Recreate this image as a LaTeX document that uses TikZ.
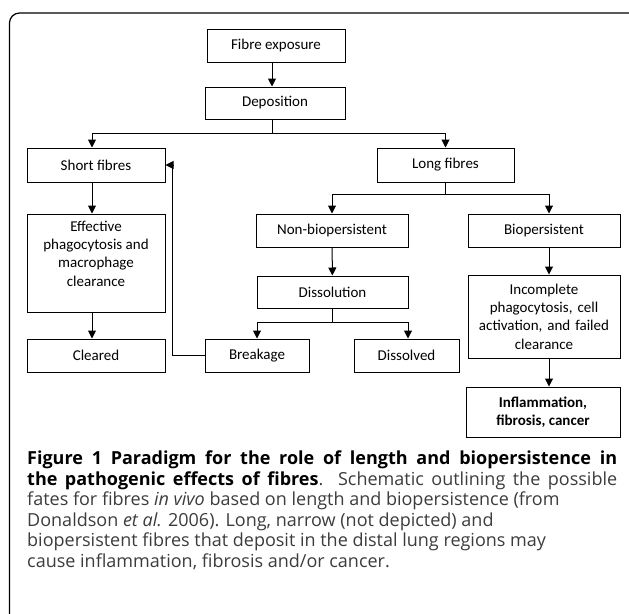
\documentclass[tikz,border=0pt]{standalone}
\usepackage{fontspec}
\setmainfont{Open Sans}
\newfontfamily\boxfont{Carlito}
\usetikzlibrary{arrows.meta}
\definecolor{captext}{HTML}{3C3C3C}

\tikzset{
  fbox/.style={draw, line width=1pt, font=\boxfont\fontsize{15}{18.3}\selectfont, align=center, inner sep=2pt},
  flow/.style={-{Triangle[length=8pt,width=8pt]}, line width=1pt},
}

\begin{document}
\begin{tikzpicture}[x=1pt,y=-1pt]
\useasboundingbox (0,0) rectangle (629,613);
% Frame round figure and caption
\begin{scope}
\clip (0,0) rectangle (629,613);
\draw[line width=1.2pt, rounded corners=10pt] (9.5,13) rectangle (660,660);
\end{scope}

% Top of the flow
\node[fbox, minimum width=138pt, minimum height=33pt] (expo) at (276,45.5) {Fibre exposure};
\node[fbox, minimum width=140pt, minimum height=32pt] (depo) at (275,103) {Deposition};

% Short fibres branch
\node[fbox, minimum width=138pt, minimum height=34pt] (short) at (96,165) {Short fibres};
\node[draw, line width=1pt, font=\boxfont\fontsize{15}{18.3}\selectfont, inner sep=2pt, minimum width=138pt, minimum height=98pt] (effect) at (96,263) {\parbox[c][84pt][t]{130pt}{\centering Effective\\phagocytosis and\\macrophage\\clearance}};
\node[fbox, minimum width=138pt, minimum height=33pt] (cleared) at (96,355.5) {Cleared};

% Long fibres branch
\node[fbox, minimum width=137pt, minimum height=34pt] (long) at (445.5,165) {Long fibres};
\node[fbox, minimum width=152pt, minimum height=33pt] (nonbio) at (332,230.5) {Non-biopersistent};
\node[fbox, minimum width=151pt, minimum height=32pt] (dissol) at (332.5,292) {Dissolution};
\node[fbox, minimum width=104pt, minimum height=33pt] (brk) at (257,355.5) {Breakage};
\node[fbox, minimum width=105pt, minimum height=33pt] (dissolved) at (406.5,355.5) {Dissolved};
\node[fbox, minimum width=152pt, minimum height=33pt] (bio) at (544,230.5) {Biopersistent};
\node[fbox, minimum width=152pt, minimum height=83pt, text width=146pt] (incompl) at (544,316.5) {Incomplete\\phagocytosis, cell\\activation, and failed\\clearance};
\node[fbox, minimum width=154pt, minimum height=50pt] (inflam) at (543,412) {\textbf{Inflammation,}\\\textbf{fibrosis, cancer}};

% Connections
\draw[flow] ([xshift=-4pt]expo.south) -- ([xshift=-4pt]expo.south |- depo.north);
\draw[flow] ([xshift=-3pt]depo.south) -- ++(0,14) -| ([xshift=-4pt]short.north);
\draw[flow] ([xshift=-3pt]depo.south) -- ++(0,14) -| (long.north);
\draw[flow] ([xshift=-4pt]short.south) -- ([xshift=-4pt]effect.north);
\draw[flow] ([xshift=-4pt]effect.south) -- ([xshift=-4pt]cleared.north);
\draw[flow] (long.south) -- ++(0,12) -| (nonbio.north);
\draw[flow] (long.south) -- ++(0,12) -| ([xshift=5pt]bio.north);
\draw[flow] (nonbio) -- (dissol);
\draw[flow] (dissol.south) -- ++(0,14) -| (brk.north);
\draw[flow] (dissol.south) -- ++(0,14) -| ([xshift=1.5pt]dissolved.north);
\draw[flow] (brk.west) -- ++(-32,0) |- (short.east);
\draw[flow] ([xshift=5pt]bio.south) -- ([xshift=5pt]incompl.north);
\draw[flow] ([xshift=5pt]incompl.south) -- ([xshift=5pt]incompl.south |- inflam.north);

% Caption
\node[anchor=north west, align=left, inner sep=0pt, text=captext, font=\fontsize{18}{20.5}\selectfont] (caption) at (27,451) {%
\makebox[590pt][s]{\color{black}\bfseries Figure 1 Paradigm for the role of length and biopersistence in}\\
\makebox[590pt][s]{{\color{black}\bfseries the pathogenic effects of fibres}. Schematic outlining the possible}\\
fates for fibres \textit{in vivo} based on length and biopersistence (from\\
Donaldson \textit{et al.} 2006). Long, narrow (not depicted) and\\
biopersistent fibres that deposit in the distal lung regions may\\
cause inflammation, fibrosis and/or cancer.};
\end{tikzpicture}
\end{document}
